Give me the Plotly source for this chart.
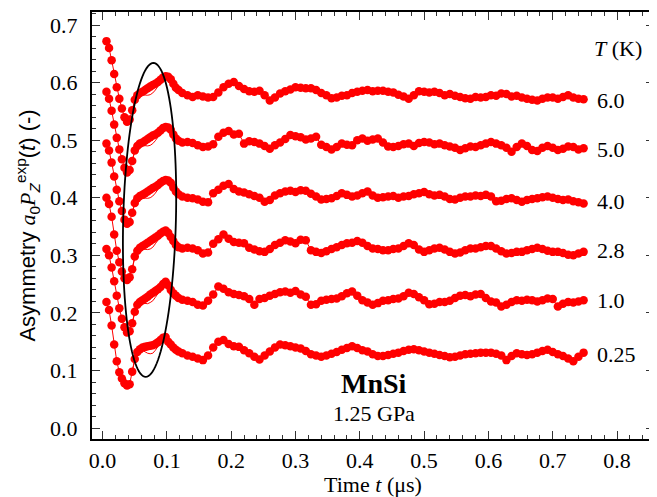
import numpy as np
import plotly.graph_objects as go

# ---- data ----
temps = ["6.0", "5.0", "4.0", "2.8", "1.0", "0.25"]
label_levels = [0.569, 0.483, 0.393, 0.309, 0.222, 0.127]

t_early = np.linspace(0.006, 0.118, 29)
t_late = np.linspace(0.124, 0.748, 79)
t_fit = t_early[10:]

a60_early = [0.672, 0.660, 0.639, 0.615, 0.592, 0.572, 0.555, 0.540, 0.532, 0.536,
             0.552, 0.570, 0.578, 0.582, 0.584, 0.587, 0.590, 0.593, 0.596, 0.598,
             0.601, 0.605, 0.609, 0.611, 0.610, 0.606, 0.598, 0.591, 0.587]
a60_late = [0.582, 0.578, 0.575, 0.578, 0.576, 0.574, 0.575, 0.583, 0.592, 0.598,
            0.601, 0.594, 0.589, 0.585, 0.584, 0.586, 0.578, 0.569, 0.574, 0.581,
            0.585, 0.588, 0.592, 0.591, 0.590, 0.590, 0.587, 0.582, 0.578, 0.573,
            0.574, 0.577, 0.578, 0.582, 0.584, 0.586, 0.587, 0.585, 0.586, 0.586,
            0.584, 0.583, 0.579, 0.576, 0.572, 0.578, 0.585, 0.584, 0.583, 0.584,
            0.582, 0.578, 0.580, 0.577, 0.575, 0.573, 0.572, 0.575, 0.574, 0.575,
            0.578, 0.577, 0.581, 0.580, 0.576, 0.577, 0.574, 0.572, 0.570, 0.569,
            0.572, 0.574, 0.574, 0.572, 0.575, 0.578, 0.574, 0.572, 0.571]
f60 = [0.552, 0.568, 0.576, 0.579, 0.579, 0.578, 0.578, 0.579, 0.582, 0.587,
       0.594, 0.601, 0.607, 0.610, 0.609, 0.605, 0.598, 0.591, 0.587]

a50_early = [0.584, 0.572, 0.551, 0.527, 0.504, 0.484, 0.467, 0.452, 0.444, 0.448,
             0.464, 0.482, 0.490, 0.494, 0.496, 0.499, 0.502, 0.505, 0.508, 0.510,
             0.513, 0.517, 0.521, 0.523, 0.522, 0.518, 0.510, 0.503, 0.499]
a50_late = [0.496, 0.497, 0.495, 0.491, 0.488, 0.489, 0.493, 0.506, 0.513, 0.516,
            0.510, 0.511, 0.494, 0.498, 0.497, 0.494, 0.490, 0.485, 0.491, 0.496,
            0.502, 0.509, 0.507, 0.505, 0.501, 0.503, 0.506, 0.492, 0.488, 0.484,
            0.488, 0.494, 0.492, 0.491, 0.500, 0.503, 0.499, 0.501, 0.503, 0.496,
            0.489, 0.488, 0.490, 0.493, 0.494, 0.490, 0.495, 0.497, 0.496, 0.493,
            0.494, 0.491, 0.489, 0.487, 0.483, 0.486, 0.489, 0.488, 0.491, 0.494,
            0.497, 0.494, 0.491, 0.487, 0.480, 0.488, 0.494, 0.490, 0.483, 0.481,
            0.487, 0.490, 0.487, 0.483, 0.485, 0.489, 0.488, 0.484, 0.486]
f50 = [0.464, 0.480, 0.488, 0.491, 0.491, 0.490, 0.490, 0.491, 0.494, 0.499,
       0.506, 0.513, 0.519, 0.522, 0.521, 0.517, 0.510, 0.503, 0.499]

a40_early = [0.494, 0.482, 0.461, 0.437, 0.414, 0.394, 0.377, 0.362, 0.355, 0.358,
             0.374, 0.391, 0.399, 0.403, 0.405, 0.408, 0.411, 0.414, 0.417, 0.419,
             0.422, 0.426, 0.429, 0.431, 0.430, 0.426, 0.418, 0.411, 0.406]
a40_late = [0.402, 0.400, 0.399, 0.397, 0.393, 0.392, 0.408, 0.414, 0.421, 0.424,
            0.415, 0.411, 0.409, 0.406, 0.403, 0.400, 0.393, 0.396, 0.404, 0.408,
            0.411, 0.412, 0.410, 0.413, 0.412, 0.407, 0.402, 0.397, 0.398, 0.399,
            0.403, 0.408, 0.405, 0.402, 0.404, 0.408, 0.411, 0.404, 0.400, 0.401,
            0.402, 0.403, 0.400, 0.402, 0.403, 0.406, 0.408, 0.410, 0.406, 0.404,
            0.405, 0.402, 0.398, 0.397, 0.400, 0.402, 0.402, 0.404, 0.403, 0.405,
            0.402, 0.394, 0.395, 0.398, 0.399, 0.396, 0.393, 0.396, 0.398, 0.399,
            0.401, 0.402, 0.400, 0.398, 0.396, 0.397, 0.394, 0.392, 0.390]
f40 = [0.374, 0.389, 0.397, 0.400, 0.400, 0.399, 0.399, 0.400, 0.403, 0.408,
       0.415, 0.422, 0.427, 0.430, 0.429, 0.425, 0.418, 0.411, 0.406]

a28_early = [0.400, 0.389, 0.367, 0.336, 0.308, 0.288, 0.272, 0.260, 0.257, 0.262,
             0.276, 0.298, 0.308, 0.313, 0.316, 0.319, 0.322, 0.325, 0.328, 0.331,
             0.334, 0.338, 0.341, 0.343, 0.339, 0.332, 0.325, 0.318, 0.314]
a28_late = [0.312, 0.313, 0.312, 0.309, 0.303, 0.305, 0.320, 0.328, 0.336, 0.329,
            0.323, 0.322, 0.321, 0.313, 0.310, 0.307, 0.306, 0.311, 0.318, 0.322,
            0.326, 0.324, 0.321, 0.327, 0.326, 0.309, 0.306, 0.304, 0.307, 0.311,
            0.314, 0.318, 0.321, 0.322, 0.325, 0.322, 0.316, 0.312, 0.311, 0.309,
            0.309, 0.311, 0.312, 0.316, 0.321, 0.318, 0.310, 0.306, 0.309, 0.312,
            0.313, 0.310, 0.306, 0.303, 0.305, 0.309, 0.312, 0.312, 0.314, 0.316,
            0.316, 0.312, 0.307, 0.303, 0.304, 0.306, 0.306, 0.309, 0.311, 0.313,
            0.311, 0.308, 0.306, 0.306, 0.304, 0.301, 0.300, 0.303, 0.306]
f28 = [0.276, 0.296, 0.306, 0.310, 0.311, 0.310, 0.310, 0.311, 0.314, 0.320,
       0.327, 0.334, 0.339, 0.342, 0.338, 0.331, 0.325, 0.318, 0.314]

a10_early = [0.311, 0.300, 0.279, 0.255, 0.230, 0.208, 0.190, 0.175, 0.166, 0.168,
             0.182, 0.202, 0.214, 0.219, 0.222, 0.225, 0.228, 0.232, 0.235, 0.238,
             0.241, 0.245, 0.250, 0.254, 0.248, 0.240, 0.234, 0.230, 0.226]
a10_late = [0.223, 0.221, 0.219, 0.214, 0.213, 0.221, 0.232, 0.246, 0.242, 0.236,
            0.233, 0.231, 0.229, 0.224, 0.214, 0.224, 0.226, 0.230, 0.233, 0.236,
            0.237, 0.235, 0.238, 0.232, 0.228, 0.214, 0.215, 0.221, 0.223, 0.224,
            0.225, 0.229, 0.234, 0.237, 0.230, 0.222, 0.218, 0.214, 0.217, 0.221,
            0.222, 0.224, 0.225, 0.229, 0.235, 0.233, 0.227, 0.222, 0.215, 0.216,
            0.219, 0.219, 0.221, 0.226, 0.230, 0.231, 0.229, 0.232, 0.233, 0.226,
            0.220, 0.218, 0.211, 0.214, 0.219, 0.222, 0.221, 0.223, 0.222, 0.220,
            0.222, 0.225, 0.224, 0.211, 0.216, 0.219, 0.218, 0.220, 0.222]
f10 = [0.182, 0.200, 0.212, 0.216, 0.217, 0.216, 0.216, 0.218, 0.221, 0.227,
       0.234, 0.241, 0.248, 0.253, 0.247, 0.239, 0.234, 0.230, 0.226]

a025_early = [0.219, 0.205, 0.178, 0.145, 0.116, 0.097, 0.086, 0.078, 0.074, 0.076,
              0.098, 0.120, 0.132, 0.137, 0.140, 0.141, 0.142, 0.143, 0.144, 0.146,
              0.149, 0.153, 0.157, 0.158, 0.150, 0.145, 0.140, 0.136, 0.133]
a025_late = [0.130, 0.126, 0.124, 0.121, 0.118, 0.126, 0.140, 0.150, 0.153, 0.146,
             0.142, 0.141, 0.135, 0.130, 0.124, 0.119, 0.126, 0.133, 0.140, 0.145,
             0.144, 0.142, 0.140, 0.138, 0.134, 0.128, 0.126, 0.124, 0.126, 0.129,
             0.132, 0.136, 0.139, 0.142, 0.139, 0.135, 0.133, 0.128, 0.125, 0.125,
             0.127, 0.129, 0.131, 0.134, 0.136, 0.137, 0.135, 0.133, 0.131, 0.129,
             0.127, 0.125, 0.123, 0.124, 0.126, 0.128, 0.129, 0.130, 0.131, 0.131,
             0.131, 0.129, 0.126, 0.118, 0.125, 0.130, 0.128, 0.127, 0.128, 0.131,
             0.134, 0.136, 0.132, 0.128, 0.125, 0.121, 0.116, 0.124, 0.131]
f025 = [0.098, 0.118, 0.130, 0.134, 0.135, 0.132, 0.130, 0.129, 0.130, 0.135,
        0.142, 0.149, 0.155, 0.157, 0.149, 0.144, 0.140, 0.136, 0.133]

series = [(a60_early, a60_late, f60), (a50_early, a50_late, f50), (a40_early, a40_late, f40),
          (a28_early, a28_late, f28), (a10_early, a10_late, f10), (a025_early, a025_late, f025)]

# ellipse annotation parameters (data units)
ell_xc, ell_yc, ell_ax, ell_ay, ell_shear = 0.073, 0.3615, 0.041, 0.2725, 0.006

RED = "#ff0000"
SERIF = "Liberation Serif"
SANS = "Liberation Sans"

fig = go.Figure()
t_all = np.concatenate([t_early, t_late])
for name, (e, l, f) in zip(temps, series):
    assert len(e) == len(t_early) and len(l) == len(t_late) and len(f) == len(t_fit)
    fig.add_trace(go.Scatter(
        x=t_fit, y=f, mode="lines", line=dict(color=RED, width=1),
        showlegend=False, hoverinfo="skip"))
    fig.add_trace(go.Scatter(
        x=t_all, y=np.array(e + l), mode="lines+markers", name=name,
        line=dict(color=RED, width=1),
        marker=dict(color=RED, size=8.5, line=dict(width=0)),
        showlegend=False, hoverinfo="skip"))

th = np.linspace(0, 2 * np.pi, 121)
ex = ell_xc + ell_ax * np.cos(th) + ell_shear * np.sin(th)
ey = ell_yc + ell_ay * np.sin(th)
path = "M " + " L ".join(f"{a:.5f},{b:.5f}" for a, b in zip(ex, ey)) + " Z"
fig.add_shape(type="path", path=path, xref="x", yref="y",
              line=dict(color="black", width=1.8), fillcolor="rgba(0,0,0,0)")

# temperature labels
fig.add_annotation(x=0.761, y=0.659, xref="x", yref="y", xanchor="left", yanchor="middle",
                   text="<i>T</i> (K)", showarrow=False, font=dict(family=SERIF, size=22, color="black"))
for name, lv in zip(temps, label_levels):
    fig.add_annotation(x=0.766, y=lv, xref="x", yref="y", xanchor="left", yanchor="middle",
                       text=name, showarrow=False, font=dict(family=SERIF, size=22, color="black"))

fig.add_annotation(x=0.422, y=0.078, xref="x", yref="y", xanchor="center", yanchor="middle",
                   text="<b>MnSi</b>", showarrow=False, font=dict(family=SERIF, size=28, color="black"))
fig.add_annotation(x=0.422, y=0.026, xref="x", yref="y", xanchor="center", yanchor="middle",
                   text="1.25 GPa", showarrow=False, font=dict(family=SERIF, size=22, color="black"))

axis_common = dict(
    showline=True, linecolor="black", linewidth=2, mirror="ticks",
    ticks="inside", ticklen=8, tickwidth=1, tickcolor="#333",
    showgrid=False, zeroline=False, automargin=False,
    tickfont=dict(family=SERIF, size=22, color="black"),
    minor=dict(ticks="inside", ticklen=4, tickwidth=1, tickcolor="#333", dtick=0.02, showgrid=False),
)

fig.update_xaxes(range=[-0.0165, 0.8575], tick0=0, dtick=0.1, tickformat=".1f",
                 ticklabelstandoff=1,
                 title=dict(text="Time <i>t</i> (μs)", font=dict(family=SERIF, size=22, color="black"),
                            standoff=6),
                 **axis_common)
fig.update_yaxes(range=[-0.019, 0.7226], tick0=0, dtick=0.1, tickformat=".1f",
                 ticklabelstandoff=8,
                 title=dict(text=("Asymmetry <span style='font-family:Liberation Serif'><i>a</i></span>"
                                  "<sub>0</sub><span style='font-family:Liberation Serif'><i>P</i></span>"
                                  "<sub><i>Z</i></sub><sup>exp</sup>(<i>t</i>) (-)"),
                            font=dict(family=SANS, size=22, color="black"), standoff=8),
                 **axis_common)

# the page body has an 8 px margin, so the figure is drawn 8 px in from the window corner
fig.update_layout(width=649, height=489, margin=dict(l=84, r=3, t=4, b=58),
                  plot_bgcolor="white", paper_bgcolor="white")

fig.write_html("out.html")
